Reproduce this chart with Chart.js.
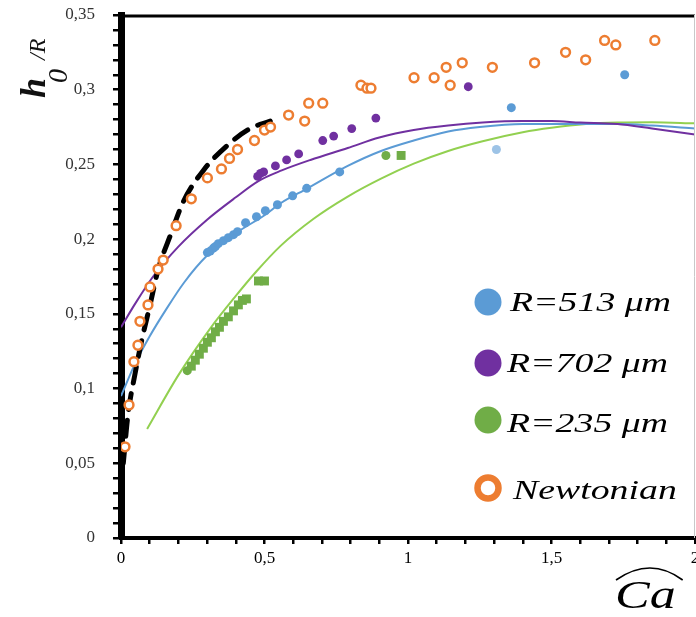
<!DOCTYPE html>
<html>
<head>
<meta charset="utf-8">
<style>
html,body{margin:0;padding:0;background:#fff;}
#wrap{width:696px;height:617px;position:relative;}
</style>
</head>
<body>
<div id="wrap"><canvas id="c" width="696" height="617"></canvas></div>
<script src="https://cdn.jsdelivr.net/npm/chart.js@4/dist/chart.umd.min.js"></script>
<script>
// ---------- DATA ----------
const yTickLabels = ['0','0,05','0,1','0,15','0,2','0,25','0,3','0,35'];
const xTickLabels = ['0','0,5','1','1,5','2'];
const legendLabels = ['R=513 \u03BCm','R=702 \u03BCm','R=235 \u03BCm','Newtonian'];
const xTitle = 'Ca';
const yTitleMain = 'h';
const yTitleSub = '0';
const yTitleRest = '/R';

// Newtonian (open circles)
const newtX = [0.014,0.028,0.045,0.059,0.066,0.094,0.101,0.129,0.147,0.192,0.245,0.301,0.350,0.378,0.406,0.465,0.500,0.521,0.584,0.640,0.654,0.703,0.836,0.857,0.871,1.021,1.091,1.133,1.147,1.189,1.294,1.441,1.549,1.619,1.685,1.724,1.860];
const newtY = [0.061,0.089,0.118,0.129,0.145,0.156,0.168,0.180,0.186,0.209,0.227,0.241,0.247,0.254,0.260,0.266,0.273,0.275,0.283,0.279,0.291,0.291,0.303,0.301,0.301,0.308,0.308,0.315,0.303,0.318,0.315,0.318,0.325,0.320,0.333,0.330,0.333];

// R = 513 um (blue dots)
const r513X = [0.301,0.311,0.322,0.329,0.339,0.357,0.374,0.392,0.406,0.434,0.472,0.503,0.545,0.598,0.647,0.762,1.308,1.360,1.755];
const r513Y = [0.191,0.192,0.194,0.195,0.197,0.199,0.201,0.203,0.205,0.211,0.215,0.219,0.223,0.229,0.234,0.245,0.260,0.288,0.310];

// R = 702 um (purple dots)
const r702X = [0.476,0.486,0.497,0.538,0.577,0.619,0.703,0.741,0.804,0.888,1.210];
const r702Y = [0.242,0.244,0.245,0.249,0.253,0.257,0.266,0.269,0.274,0.281,0.302];

// R = 235 um (green markers)
const r235X = [0.231,0.245,0.259,0.273,0.287,0.301,0.315,0.329,0.343,0.357,0.374,0.392,0.409,0.423,0.437,0.479,0.500,0.923,0.976];
const r235Y = [0.112,0.115,0.119,0.123,0.127,0.131,0.134,0.138,0.141,0.145,0.148,0.152,0.156,0.159,0.160,0.172,0.172,0.256,0.256];

// Model curves
const fit513X = [0,0.05,0.1,0.154,0.22,0.3,0.4,0.5,0.556,0.65,0.79,0.906,1.02,1.14,1.25,1.4,1.5,1.6,1.73,1.85,2.0];
const fit513Y = [0.095,0.117,0.135,0.152,0.171,0.189,0.204,0.216,0.224,0.234,0.249,0.259,0.266,0.272,0.275,0.277,0.277,0.277,0.277,0.276,0.274];
const fit702X = [0,0.05,0.112,0.2,0.3,0.4,0.48,0.56,0.66,0.79,0.9,1.02,1.14,1.26,1.4,1.5,1.6,1.73,1.85,2.0];
const fit702Y = [0.141,0.157,0.175,0.195,0.213,0.228,0.239,0.246,0.253,0.261,0.268,0.273,0.276,0.278,0.279,0.279,0.278,0.277,0.274,0.270];
const fit235X = [0.091,0.2,0.31,0.4,0.47,0.556,0.67,0.79,0.906,1.02,1.14,1.26,1.4,1.5,1.62,1.73,1.85,2.0];
const fit235Y = [0.073,0.109,0.140,0.162,0.178,0.1955,0.2135,0.2285,0.2405,0.2505,0.259,0.2655,0.2715,0.2745,0.277,0.278,0.2782,0.2775];
const theoryX = [0.008,0.024,0.049,0.073,0.10,0.13,0.171,0.217,0.287,0.378,0.45,0.52];
const theoryY = [0.050,0.082,0.110,0.133,0.155,0.180,0.202,0.225,0.246,0.264,0.274,0.279];

// ---------- BUILD ----------
const pts = (xs, ys) => xs.map((x, i) => ({x: x, y: ys[i]}));
const C_BLUE = '#5B9BD5', C_BLUE_LIGHT = '#9DC3E6', C_PURPLE = '#7030A0',
      C_GREEN = '#70AD47', C_GREEN_LINE = '#92D050', C_ORANGE = '#ED7D31';

const greenStyles = r235X.map((x, i) => (i === 0 || i === r235X.length - 2) ? 'circle' : 'rect');
const greenRadius = r235X.map((x, i) => (i === 0 || i === r235X.length - 2) ? 4.5 : 6.3);
const blueColors = r513X.map((x, i) => (i === 16) ? C_BLUE_LIGHT : C_BLUE);

const deco = {
  id: 'deco',
  afterDraw(chart) {
    const ctx = chart.ctx;
    const a = chart.chartArea;
    ctx.save();
    // top frame line
    ctx.strokeStyle = '#000';
    ctx.lineWidth = 3;
    ctx.beginPath();
    ctx.moveTo(a.left - 3, a.top + 1);
    ctx.lineTo(a.right, a.top + 1);
    ctx.stroke();
    // right frame line
    ctx.strokeStyle = '#c8c8c8';
    ctx.lineWidth = 1;
    ctx.beginPath();
    ctx.moveTo(a.right - 0.5, a.top);
    ctx.lineTo(a.right - 0.5, a.bottom);
    ctx.stroke();

    // legend
    const items = [
      {c: C_BLUE, cy: 302, ty: 304, tx: 510, ring: false},
      {c: C_PURPLE, cy: 363, ty: 365, tx: 507, ring: false},
      {c: C_GREEN, cy: 420, ty: 425, tx: 507, ring: false},
      {c: C_ORANGE, cy: 488, ty: 492, tx: 513, ring: true}
    ];
    items.forEach((it, i) => {
      ctx.beginPath();
      if (it.ring) {
        ctx.arc(488, it.cy, 10.5, 0, Math.PI * 2);
        ctx.strokeStyle = it.c;
        ctx.lineWidth = 6.5;
        ctx.stroke();
      } else {
        ctx.arc(488, it.cy, 13.5, 0, Math.PI * 2);
        ctx.fillStyle = it.c;
        ctx.fill();
      }
      ctx.save();
      ctx.translate(it.tx, it.ty);
      ctx.scale(1.35, 1);
      ctx.fillStyle = '#000';
      ctx.font = 'italic 28px "Liberation Serif"';
      ctx.textBaseline = 'middle';
      ctx.textAlign = 'left';
      ctx.fillText(legendLabels[i], 0, 0);
      ctx.restore();
    });

    // x-axis title with wide hat
    ctx.save();
    ctx.translate(615, 608);
    ctx.scale(1.3, 1);
    ctx.fillStyle = '#000';
    ctx.font = 'italic 40px "Liberation Serif"';
    ctx.textBaseline = 'alphabetic';
    ctx.textAlign = 'left';
    ctx.fillText(xTitle, 0, 0);
    const w = ctx.measureText(xTitle).width * 1.3;
    ctx.restore();
    ctx.strokeStyle = '#000';
    ctx.lineWidth = 1.6;
    ctx.beginPath();
    ctx.moveTo(616, 580);
    ctx.quadraticCurveTo(618 + (w + 4) / 2, 556, 620 + w + 2, 580);
    ctx.stroke();

    // y-axis title (rotated)
    ctx.save();
    ctx.translate(45, 98);
    ctx.rotate(-Math.PI / 2);
    ctx.fillStyle = '#111';
    ctx.font = 'italic bold 36px "Liberation Serif"';
    ctx.fillText(yTitleMain, 0, 0);
    ctx.font = 'italic 28px "Liberation Serif"';
    ctx.fillText(yTitleSub, 15, 22);
    ctx.font = 'italic 24px "Liberation Serif"';
    ctx.fillText(yTitleRest, 38, 0);
    ctx.restore();

    ctx.restore();
  }
};

new Chart(document.getElementById('c'), {
  type: 'scatter',
  data: {
    datasets: [
      {
        label: 'Newtonian', data: pts(newtX, newtY),
        pointStyle: 'circle', pointRadius: 4.4, pointBorderWidth: 2.5,
        pointBackgroundColor: '#ffffff', pointBorderColor: C_ORANGE, showLine: false
      },
      {
        label: 'R=513', data: pts(r513X, r513Y),
        pointRadius: 4.5, pointBorderWidth: 0,
        pointBackgroundColor: blueColors, pointBorderColor: blueColors, showLine: false
      },
      {
        label: 'R=702', data: pts(r702X, r702Y),
        pointRadius: 4.4, pointBorderWidth: 0,
        pointBackgroundColor: C_PURPLE, pointBorderColor: C_PURPLE, showLine: false
      },
      {
        label: 'R=235', data: pts(r235X, r235Y),
        pointStyle: greenStyles, pointRadius: greenRadius, pointBorderWidth: 0,
        pointBackgroundColor: C_GREEN, pointBorderColor: C_GREEN, showLine: false
      },
      {
        label: 'theory', data: pts(theoryX, theoryY), showLine: true,
        borderColor: '#000', borderWidth: 5, borderDash: [16, 11], borderCapStyle: 'round',
        pointRadius: 0, cubicInterpolationMode: 'monotone', fill: false
      },
      {
        label: 'fit702', data: pts(fit702X, fit702Y), showLine: true,
        borderColor: C_PURPLE, borderWidth: 2, pointRadius: 0,
        cubicInterpolationMode: 'monotone', fill: false
      },
      {
        label: 'fit513', data: pts(fit513X, fit513Y), showLine: true,
        borderColor: C_BLUE, borderWidth: 2, pointRadius: 0,
        cubicInterpolationMode: 'monotone', fill: false
      },
      {
        label: 'fit235', data: pts(fit235X, fit235Y), showLine: true,
        borderColor: C_GREEN_LINE, borderWidth: 2, pointRadius: 0,
        cubicInterpolationMode: 'monotone', fill: false
      }
    ]
  },
  options: {
    responsive: false,
    animation: false,
    devicePixelRatio: 1,
    layout: {autoPadding: false, padding: {left: 0, top: 15, right: 1, bottom: 0}},
    plugins: {legend: {display: false}, tooltip: {enabled: false}},
    scales: {
      x: {
        type: 'linear', min: 0, max: 2,
        afterFit(s) { s.height = 79; s.paddingLeft = 0; s.paddingRight = 0; },
        ticks: {
          stepSize: 0.1, autoSkip: false, maxRotation: 0, padding: 4,
          color: '#000', font: {family: '"Liberation Serif"', size: 17},
          callback(v) { const k = Math.round(v * 10); return (k % 5 === 0) ? xTickLabels[k / 5] : ''; }
        },
        grid: {display: true, drawOnChartArea: false, drawTicks: true, tickLength: 6, color: '#000', lineWidth: 2.5},
        border: {display: true, color: '#000', width: 4}
      },
      y: {
        type: 'linear', min: 0, max: 0.35,
        afterFit(s) { s.width = 121; s.paddingTop = 0; s.paddingBottom = 0; },
        ticks: {
          stepSize: 0.01, autoSkip: false, padding: 18,
          color: '#333', font: {family: '"Liberation Serif"', size: 17},
          callback(v) { const k = Math.round(v * 100); return (k % 5 === 0) ? yTickLabels[k / 5] : ''; }
        },
        grid: {display: true, drawOnChartArea: false, drawTicks: true, tickLength: 8, color: '#000', lineWidth: 2.5},
        border: {display: true, color: '#000', width: 7}
      }
    }
  },
  plugins: [deco]
});
</script>
</body>
</html>
